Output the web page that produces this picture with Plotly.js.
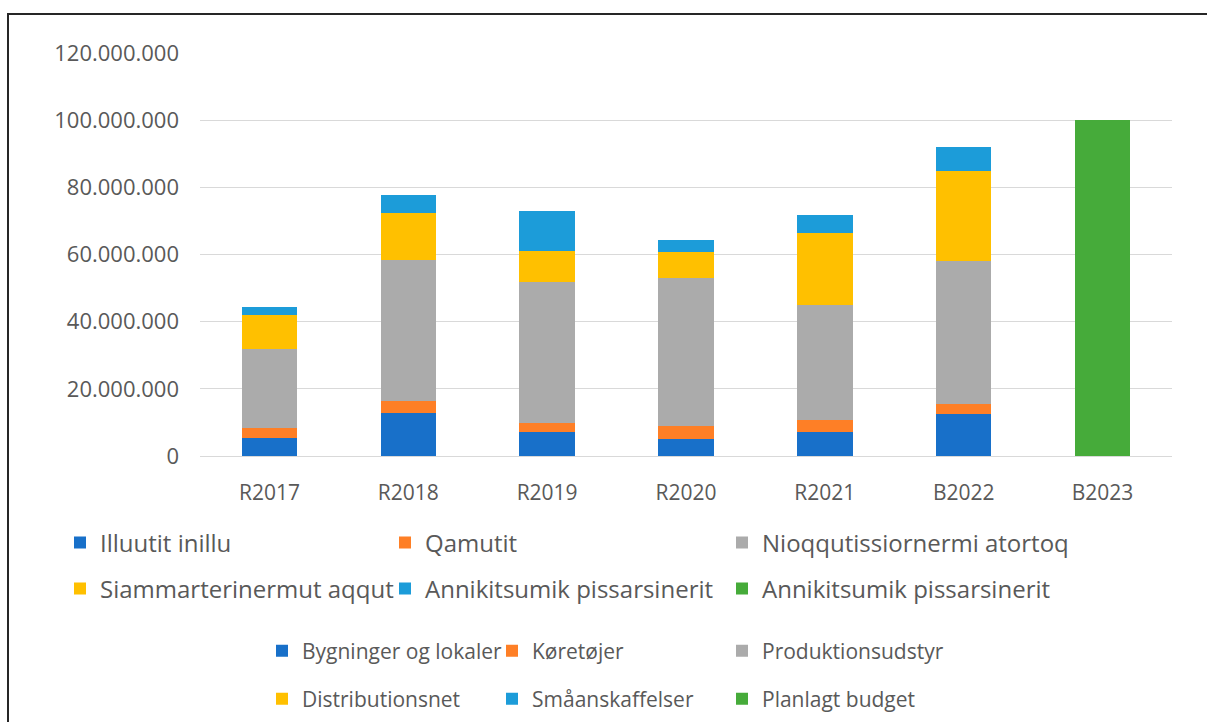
<!DOCTYPE html>
<html>
<head>
<meta charset="utf-8">
<script src="https://cdn.plot.ly/plotly-3.0.1.min.js"></script>
<style>
html,body{margin:0;padding:0;background:#fff;}
#chart{width:1207px;height:722px;}
</style>
</head>
<body>
<div id="chart"></div>
<script>
// ---- data ----
const categories = ['R2017', 'R2018', 'R2019', 'R2020', 'R2021', 'B2022', 'B2023'];
const bygninger   = [5400000, 12900000, 7000000, 5000000, 7000000, 12400000, null];
const koretojer   = [2900000, 3600000, 2900000, 3800000, 3700000, 3200000, null];
const produktion  = [23500000, 41800000, 42000000, 44100000, 34400000, 42400000, null];
const distribution= [10200000, 14000000, 9000000, 7800000, 21300000, 26800000, null];
const smaa        = [2300000, 5300000, 12100000, 3500000, 5300000, 7300000, null];
const budget      = [null, null, null, null, null, null, 100000000];

const namesKl = ['Illuutit inillu', 'Qamutit', 'Nioqqutissiornermi atortoq',
                 'Siammarterinermut aqqut', 'Annikitsumik pissarsinerit', 'Annikitsumik pissarsinerit'];
const namesDa = ['Bygninger og lokaler', 'Køretøjer', 'Produktionsudstyr',
                 'Distributionsnet', 'Småanskaffelser', 'Planlagt budget'];
const yTickVals = [0, 20000000, 40000000, 60000000, 80000000, 100000000, 120000000];

// ---- styling ----
const colors = ['#1870C9', '#FE7F26', '#ABABAB', '#FFC000', '#1C9CD9', '#46AB3A'];
const series = [bygninger, koretojer, produktion, distribution, smaa, budget];
const W = 1207, H = 722;
const M = {l: 200, r: 35, t: 53, b: 266, autoexpand: false};
const txtColor = '#595959';
const FONT = 'Open Sans, sans-serif';

// legend entry positions (pixel: text start x, row centre y)
const klX = [100, 425, 762], klY = [543, 589];
const daX = [302, 532, 762], daY = [651, 699];

const traces = [];
const layout = {
  width: W, height: H,
  margin: M,
  paper_bgcolor: '#ffffff',
  plot_bgcolor: '#ffffff',
  barmode: 'stack',
  bargap: 0.6,
  separators: ',.',
  font: {family: FONT, color: txtColor},
  xaxis: {
    type: 'category',
    categoryorder: 'array', categoryarray: categories,
    showgrid: false,
    showline: true, linecolor: '#D9D9D9', linewidth: 1,
    ticks: '',
    ticklabelstandoff: 18,
    tickfont: {family: FONT, size: 21, color: txtColor},
    automargin: false,
    fixedrange: true
  },
  yaxis: {
    range: [0, 120000000],
    tickvals: yTickVals,
    tickformat: ',d',
    showgrid: true, gridcolor: '#D9D9D9', gridwidth: 1,
    zeroline: false, showline: false,
    ticks: '',
    ticklabelstandoff: 20,
    tickfont: {family: FONT, size: 22, color: txtColor},
    automargin: false,
    fixedrange: true
  },
  shapes: [],
  showlegend: true
};

function legendDef(textX, rowY, size) {
  return {
    xref: 'container', yref: 'container',
    x: (textX - 40) / W, y: 1 - rowY / H,
    xanchor: 'left', yanchor: 'middle',
    orientation: 'v',
    bgcolor: 'rgba(0,0,0,0)', borderwidth: 0,
    itemwidth: 30,
    font: {family: FONT, size: size, color: txtColor},
    itemclick: false, itemdoubleclick: false
  };
}

for (let i = 0; i < 6; i++) {
  const lk = 'legend' + (i === 0 ? '' : (i + 1));
  const ld = 'legend' + (i + 7);
  const col = i % 3, row = Math.floor(i / 3);
  layout[lk] = legendDef(klX[col], klY[row], 24);
  layout[ld] = legendDef(daX[col], daY[row], 21);
  traces.push({
    type: 'bar', x: categories, y: series[i], name: namesKl[i],
    marker: {color: colors[i], line: {width: 0}},
    legend: lk, hoverinfo: 'x+y+name'
  });
}
for (let i = 0; i < 6; i++) {
  traces.push({
    type: 'bar', x: categories, y: categories.map(() => null), name: namesDa[i],
    marker: {color: colors[i], line: {width: 0}},
    legend: 'legend' + (i + 7), hoverinfo: 'skip'
  });
}

// outer chart frame
const pw = W - M.l - M.r, ph = H - M.t - M.b;
layout.shapes.push({
  type: 'rect', xref: 'paper', yref: 'paper',
  x0: (8 - M.l) / pw, x1: (W + 10 - M.l) / pw,
  y0: (H - M.b - (H + 10)) / ph, y1: (H - M.b - 14) / ph,
  line: {color: '#262626', width: 2}, fillcolor: 'rgba(0,0,0,0)', layer: 'above'
});

Plotly.newPlot('chart', traces, layout, {displayModeBar: false, staticPlot: true});
</script>
</body>
</html>
